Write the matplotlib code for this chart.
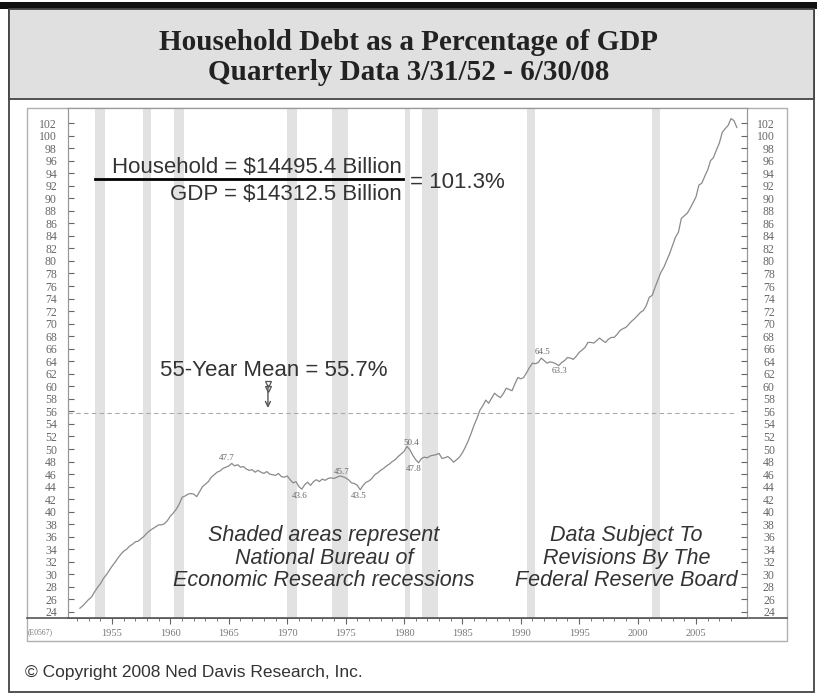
import numpy as np
import matplotlib.pyplot as plt
from matplotlib.patches import Rectangle
from matplotlib.lines import Line2D

# quarterly household debt / GDP (%), 3/31/52 .. 6/30/08
ratio = [
    24.6, 25.0, 25.5, 26.0,   # 1952
    26.4, 27.2, 27.9, 28.5,   # 1953
    29.3, 29.9, 30.6, 31.3,   # 1954
    31.9, 32.6, 33.2, 33.7,   # 1955
    34.0, 34.5, 34.8, 35.2,   # 1956
    35.3, 35.7, 36.1, 36.6,   # 1957
    37.0, 37.3, 37.6, 37.9,   # 1958
    37.9, 38.1, 38.6, 39.3,   # 1959
    39.8, 40.4, 41.2, 42.3,   # 1960
    42.5, 42.8, 42.9, 42.8,   # 1961
    42.4, 43.2, 44.0, 44.4,   # 1962
    44.8, 45.5, 45.9, 46.3,   # 1963
    46.5, 46.9, 47.1, 47.3,   # 1964
    47.7, 47.3, 47.5, 47.1,   # 1965
    47.2, 46.8, 46.6, 46.7,   # 1966
    46.3, 46.6, 46.3, 46.1,   # 1967
    46.4, 46.0, 45.9, 45.8,   # 1968
    46.1, 45.6, 45.5, 45.7,   # 1969
    45.1, 44.6, 44.8, 44.0,   # 1970
    43.6, 44.3, 44.7, 44.2,   # 1971
    44.8, 45.1, 44.8, 45.2,   # 1972
    45.0, 45.3, 45.4, 45.3,   # 1973
    45.5, 45.7, 45.6, 45.4,   # 1974
    45.1, 44.6, 44.5, 44.2,   # 1975
    43.5, 44.2, 44.7, 44.9,   # 1976
    45.3, 45.9, 46.2, 46.6,   # 1977
    46.9, 47.3, 47.6, 48.0,   # 1978
    48.3, 48.8, 49.2, 49.6,   # 1979
    50.4, 49.9, 49.0, 48.3,   # 1980
    47.8, 48.5, 48.7, 48.6,   # 1981
    48.9, 49.0, 49.1, 49.3,   # 1982
    48.5, 48.6, 48.8, 48.4,   # 1983
    47.9, 48.3, 48.7, 49.4,   # 1984
    50.3, 51.3, 52.5, 53.8,   # 1985
    54.9, 56.2, 56.9, 57.8,   # 1986
    57.3, 58.1, 58.9, 58.5,   # 1987
    58.2, 58.8, 59.7, 59.5,   # 1988
    59.3, 60.4, 61.4, 61.2,   # 1989
    61.4, 62.2, 63.0, 63.7,   # 1990
    63.6, 63.8, 64.5, 64.1,   # 1991
    63.7, 63.9, 63.8, 63.6,   # 1992
    63.3, 63.8, 64.1, 64.6,   # 1993
    64.5, 64.3, 64.8, 65.4,   # 1994
    65.8, 66.2, 67.0, 67.0,   # 1995
    66.9, 67.3, 67.7, 67.3,   # 1996
    67.0, 67.5, 67.8, 67.8,   # 1997
    68.3, 68.9, 69.2, 69.4,   # 1998
    69.9, 70.4, 70.8, 71.3,   # 1999
    71.8, 72.1, 72.9, 74.2,   # 2000
    74.5, 75.8, 77.0, 78.2,   # 2001
    79.0, 80.1, 81.2, 82.5,   # 2002
    83.8, 84.6, 86.8, 87.2,   # 2003
    87.6, 88.4, 89.3, 90.2,   # 2004
    92.1, 92.4, 93.5, 94.5,   # 2005
    96.0, 96.5, 97.7, 98.8,   # 2006
    100.5, 101.1, 101.6, 102.7,  # 2007
    102.4, 101.3,             # 2008
]
first_quarter_end = 1952.25
mean_value = 55.7

# NBER recessions (start, end) as decimal years
recessions = [(1953.55, 1954.37), (1957.62, 1958.33), (1960.30, 1961.12),
              (1969.95, 1970.87), (1973.87, 1975.20), (1980.05, 1980.55),
              (1981.55, 1982.87), (1990.55, 1991.20), (2001.20, 2001.88)]

# peak / trough labels: (text, x, y)
point_labels = [("47.7", 1964.85, 48.5), ("43.6", 1971.1, 42.5),
                ("45.7", 1974.7, 46.4), ("43.5", 1976.1, 42.5),
                ("50.4", 1980.65, 51.0), ("47.8", 1980.8, 46.8),
                ("64.5", 1991.9, 65.4), ("63.3", 1993.3, 62.5)]

dates = first_quarter_end + 0.25 * np.arange(len(ratio))

W, H = 817, 694
fig = plt.figure(figsize=(W / 100, H / 100), dpi=100)
fig.patch.set_facecolor('white')

def fx(px):
    return px / W

def fy(py):
    return 1 - py / H

def box(x0, y0, x1, y1, **kw):
    fig.add_artist(Rectangle((fx(x0), fy(y1)), fx(x1) - fx(x0), fy(y0) - fy(y1),
                             transform=fig.transFigure, zorder=-10, **kw))

# page frame, title band, plot frame (kept behind the axes)
box(0, 2, W, 9, facecolor='#111111', edgecolor='none')
box(9, 9, 814, 692, facecolor='white', edgecolor='#444444', lw=1.3)
box(9, 9, 814, 99, facecolor='#e0e0e0', edgecolor='#444444', lw=1.3)
box(27, 108, 787, 641, facecolor='white', edgecolor='#b0b0b0', lw=1.0)
fig.add_artist(Line2D([fx(27), fx(787)], [fy(618), fy(618)], transform=fig.transFigure,
                      color='#555555', lw=1.2, zorder=-5))

serif = 'Liberation Serif'
sans = 'Liberation Sans'
fig.text(0.5, fy(43), "Household Debt as a Percentage of GDP", ha='center', va='center',
         family=serif, weight='bold', fontsize=21, color='#222222')
fig.text(0.5, fy(73), "Quarterly Data 3/31/52 - 6/30/08", ha='center', va='center',
         family=serif, weight='bold', fontsize=21, color='#222222')
fig.text(fx(25), fy(672), "\u00a9 Copyright 2008 Ned Davis Research, Inc.", ha='left',
         va='center', family=sans, fontsize=12.5, color='#333333')
fig.text(fx(40), fy(632), "(E0567)", ha='center', va='center', family=serif,
         fontsize=5.5, color='#777777')

ax = fig.add_axes([fx(68), fy(618), fx(747) - fx(68), fy(108) - fy(618)])
ax.set_xlim(1951.23, 2009.37)
ax.set_ylim(23.04, 104.4)

for a, b in recessions:
    ax.axvspan(a, b, color='#e2e2e2', lw=0, zorder=0)

ax.plot(dates, ratio, color='#8a8a8a', lw=0.9, zorder=3)
ax.axhline(mean_value, xmin=0.0, xmax=0.985, color='#aaaaaa', lw=0.8,
           ls=(0, (4, 3)), zorder=2)

for txt, x, y in point_labels:
    ax.text(x, y, txt, ha='center', va='center', family=serif, fontsize=6.5,
            color='#666666')

# fraction annotation
ax.plot([1953.54, 1979.91], [93.0, 93.0], color='black', lw=2, zorder=4)
ax.text(1979.8, 94.9, "Household = $14495.4 Billion", ha='right', va='center',
        family=sans, fontsize=16, color='#333333')
ax.text(1979.8, 90.6, "GDP = $14312.5 Billion", ha='right', va='center',
        family=sans, fontsize=16, color='#333333')
ax.text(1980.5, 92.5, "= 101.3%", ha='left', va='center', family=sans,
        fontsize=16, color='#333333')

ax.text(1968.87, 62.5, "55-Year Mean = 55.7%", ha='center', va='center',
        family=sans, fontsize=16, color='#333333')
ax.annotate('', xy=(1968.35, 56.1), xytext=(1968.35, 60.6),
            arrowprops=dict(arrowstyle='->', color='#555555', lw=1.0,
                            mutation_scale=9))
ax.plot([1968.35, 1968.35], [60.3, 59.6], ls='none', marker='v', ms=4,
        mfc='none', mec='#555555', mew=0.9)

ax.text(1973.15, 32.6, "Shaded areas represent\nNational Bureau of\nEconomic Research recessions",
        ha='center', va='center', multialignment='center', family=sans,
        style='italic', fontsize=15.5, color='#333333', linespacing=1.12)
ax.text(1999.05, 32.6, "Data Subject To\nRevisions By The\nFederal Reserve Board",
        ha='center', va='center', multialignment='center', family=sans,
        style='italic', fontsize=15.5, color='#333333', linespacing=1.12)

# axes styling
yt = np.arange(24, 103, 2)
ax.set_yticks(yt)
ax.set_xticks(np.arange(1955, 2006, 5))
ax.set_xticks(np.arange(1952, 2009, 1), minor=True)
ax.tick_params(axis='y', direction='in', length=4, width=0.8, color='#666666',
               pad=8, labelsize=8.5, labelcolor='#666666')
ax.tick_params(axis='x', which='major', direction='out', length=4, width=0.8,
               color='#666666', pad=4, labelsize=7.5, labelcolor='#777777')
ax.tick_params(axis='x', which='minor', direction='out', length=2.5, width=0.7,
               color='#777777')
for lab in ax.get_xticklabels() + ax.get_yticklabels():
    lab.set_family(serif)
for side in ['left', 'right', 'top']:
    ax.spines[side].set_color('#999999')
    ax.spines[side].set_linewidth(0.9)
ax.spines['bottom'].set_color('#555555')
ax.spines['bottom'].set_linewidth(1.2)

ax2 = ax.twinx()
ax2.set_ylim(ax.get_ylim())
ax2.set_yticks(yt)
ax2.tick_params(axis='y', direction='in', length=4, width=0.8, color='#666666',
                pad=20, labelsize=8.5, labelcolor='#666666')
for lab in ax2.get_yticklabels():
    lab.set_family(serif)
    lab.set_horizontalalignment('right')
for s in ax2.spines.values():
    s.set_visible(False)

fig.savefig('out.png', dpi=100)
